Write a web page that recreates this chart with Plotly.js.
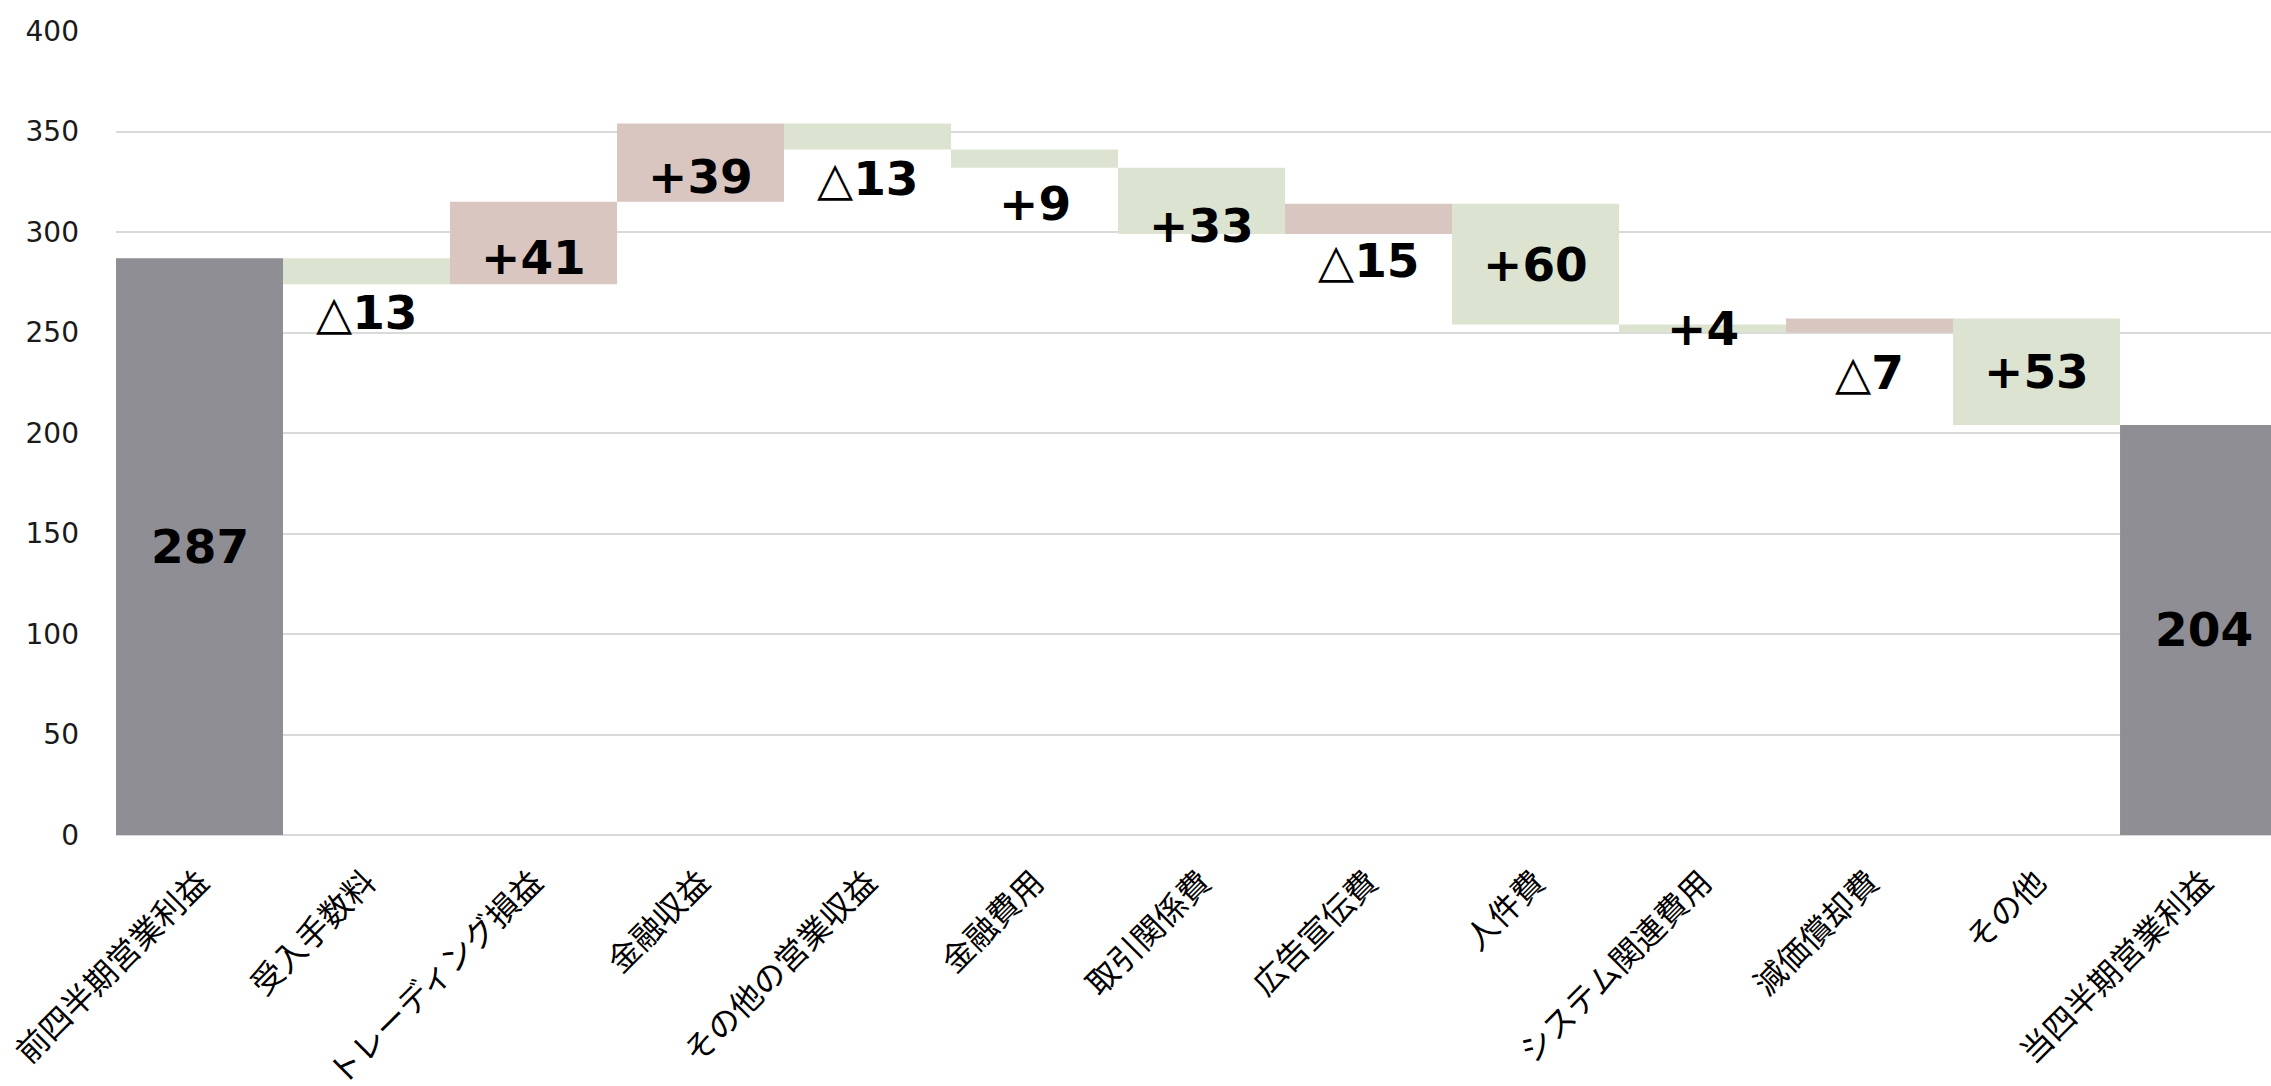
<!DOCTYPE html>
<html>
<head>
<meta charset="utf-8">
<script src="https://cdn.plot.ly/plotly-3.0.1.min.js"></script>
<style>html,body{margin:0;padding:0;background:#fff;}#chart{width:2271px;height:1086px;}</style>
</head>
<body>
<div id="chart"></div>
<script>
// ---- data ----
const categories = ['前四半期営業利益','受入手数料','トレーディング損益','金融収益','その他の営業収益','金融費用','取引関係費','広告宣伝費','人件費','システム関連費用','減価償却費','その他','当四半期営業利益'];
const measures = ['absolute','relative','relative','relative','relative','relative','relative','relative','relative','relative','relative','relative','total'];
const values = [287, -13, 41, 39, -13, -9, -33, 15, -60, -4, 7, -53, 204];
const labelTexts = ['287','△13','+41','+39','△13','+9','+33','△15','+60','+4','△7','+53','204'];
const yTicks = [0, 50, 100, 150, 200, 250, 300, 350, 400];

// ---- label style (placement relative to each bar) ----
const labelPlacement = ['center','below','base','base','below','below','base','below','center','center','below','center','center'];
const labelOffsetPx = [0, 28, -27, -25, 29, 36, -9, 26, 0, 0, 40, 0, 0];

const COL_UP = '#D9C6C0', COL_DOWN = '#DCE3D1', COL_TOTAL = '#8F8E94';

// compute bar extents from the data
let cum = 0;
const bottoms = [], mids = [];
values.forEach((v, i) => {
  let a, b;
  if (measures[i] === 'absolute') { a = 0; b = v; cum = v; }
  else if (measures[i] === 'total') { a = 0; b = cum; }
  else { a = cum; b = cum + v; cum = b; }
  bottoms.push(Math.min(a, b));
  mids.push((a + b) / 2);
});

function fmt(t) {
  if (t.startsWith('△')) return '△<b>' + t.slice(1) + '</b>';
  return '<b>' + t + '</b>';
}

const annotations = labelTexts.map((t, i) => {
  const center = labelPlacement[i] === 'center';
  return {
    x: categories[i], y: center ? mids[i] : bottoms[i],
    xref: 'x', yref: 'y', showarrow: false,
    text: fmt(t), yanchor: 'middle', xanchor: 'center',
    yshift: -labelOffsetPx[i],
    font: {family: 'DejaVu Sans, Noto Sans CJK JP', size: 47, color: '#000'}
  };
});

const trace = {
  type: 'waterfall',
  x: categories,
  y: values,
  measure: measures,
  textposition: 'none',
  connector: {visible: false},
  increasing: {marker: {color: COL_UP, line: {width: 0}}},
  decreasing: {marker: {color: COL_DOWN, line: {width: 0}}},
  totals: {marker: {color: COL_TOTAL, line: {width: 0}}},
  hoverinfo: 'skip'
};

const layout = {
  width: 2271, height: 1086,
  margin: {l: 116, r: 0, t: 31, b: 251, pad: 0},
  paper_bgcolor: '#fff', plot_bgcolor: '#fff',
  showlegend: false,
  waterfallgap: 0,
  xaxis: {
    type: 'category',
    range: [-0.5, 12.404],
    tickangle: -45,
    tickfont: {family: 'Noto Sans CJK JP', size: 32, color: '#000'},
    ticks: '', showgrid: false, zeroline: false, showline: false,
    ticklabelstandoff: 21,
    automargin: false
  },
  yaxis: {
    range: [0, 400],
    tickvals: yTicks,
    ticktext: yTicks.map(String),
    tickfont: {family: 'DejaVu Sans', size: 28, color: '#1a1a1a'},
    showgrid: true, gridcolor: '#D9D9D9', gridwidth: 2,
    zeroline: true, zerolinecolor: '#D9D9D9', zerolinewidth: 2,
    showline: false, ticks: '',
    ticklabelstandoff: 36,
    automargin: false
  },
  annotations: annotations
};

Plotly.newPlot('chart', [trace], layout, {displayModeBar: false, staticPlot: true});
</script>
</body>
</html>
